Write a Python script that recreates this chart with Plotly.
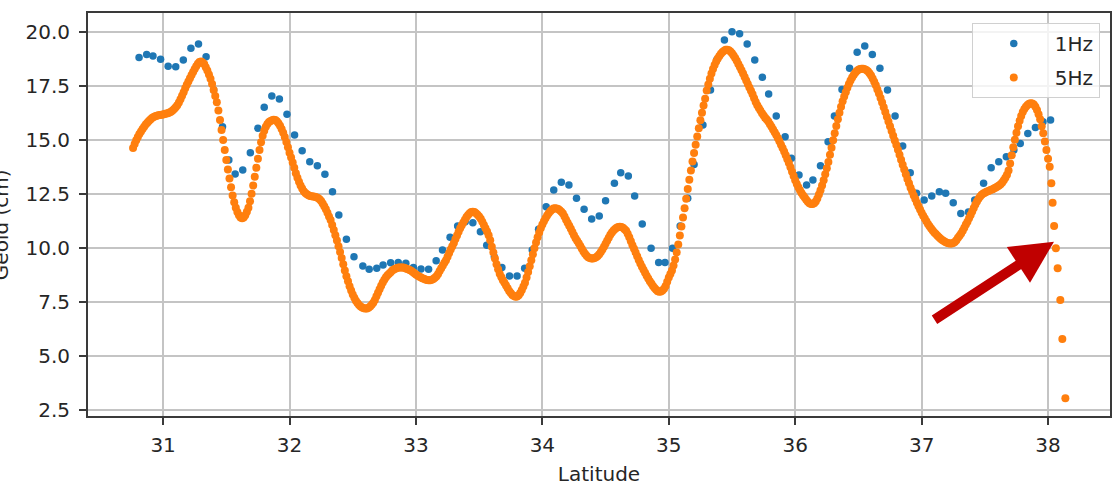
import plotly.graph_objects as go

# ---------------- data ----------------
LAT_1HZ = [
    30.81, 30.87, 30.92, 30.98, 31.04, 31.10, 31.16, 31.22, 31.28, 31.34,
    31.40, 31.47, 31.52, 31.57, 31.63, 31.69, 31.75, 31.80, 31.86, 31.92,
    31.98, 32.04, 32.10, 32.16, 32.22, 32.28, 32.34, 32.39, 32.45, 32.51,
    32.58, 32.63, 32.69, 32.74, 32.80, 32.86, 32.92, 32.98, 33.04, 33.10,
    33.16, 33.21, 33.27, 33.33, 33.39, 33.45, 33.51, 33.56, 33.62, 33.68,
    33.74, 33.80, 33.86, 33.92, 33.97, 34.03, 34.09, 34.15, 34.21, 34.27,
    34.33, 34.39, 34.45, 34.50, 34.57, 34.62, 34.68, 34.73, 34.79, 34.86,
    34.92, 34.97, 35.03, 35.09, 35.15, 35.20, 35.27, 35.33, 35.38, 35.44,
    35.50, 35.56, 35.62, 35.68, 35.74, 35.79, 35.85, 35.92, 35.97, 36.03,
    36.09, 36.14, 36.20, 36.26, 36.31, 36.37, 36.43, 36.49, 36.55, 36.61,
    36.67, 36.73, 36.79, 36.85, 36.91, 36.96, 37.02, 37.08, 37.14, 37.19,
    37.25, 37.31, 37.37, 37.42, 37.49, 37.55, 37.61, 37.67, 37.73, 37.78,
    37.84, 37.90, 37.96, 38.02,
]
VAL_1HZ = [
    18.81, 18.95, 18.87, 18.72, 18.40, 18.38, 18.69, 19.23, 19.43, 18.84,
    17.30, 15.60, 14.06, 13.41, 13.60, 14.40, 15.53, 16.50, 17.02, 16.88,
    16.18, 15.22, 14.49, 13.98, 13.80, 13.40, 12.59, 11.51, 10.39, 9.58,
    9.15, 9.00, 9.05, 9.20, 9.31, 9.32, 9.28, 9.09, 9.01, 9.00,
    9.40, 9.89, 10.48, 11.00, 11.20, 11.16, 10.74, 10.12, 9.58, 9.09,
    8.69, 8.69, 9.05, 9.89, 10.86, 11.90, 12.67, 13.03, 12.90, 12.29,
    11.78, 11.33, 11.47, 12.18, 12.98, 13.47, 13.32, 12.39, 11.10, 9.97,
    9.32, 9.32, 9.97, 11.00, 12.29, 13.85, 15.68, 17.30, 18.70, 19.62,
    20.00, 19.90, 19.43, 18.69, 17.89, 17.12, 16.10, 15.14, 14.14, 13.37,
    12.90, 13.14, 13.80, 14.91, 16.10, 17.33, 18.31, 19.05, 19.34, 18.95,
    18.31, 17.30, 16.10, 14.71, 13.47, 12.52, 12.21, 12.39, 12.59, 12.52,
    12.08, 11.59, 11.65, 12.21, 12.98, 13.70, 13.98, 14.21, 14.52, 14.83,
    15.29, 15.57, 15.83, 15.91,
]

# 5 Hz series: regular along-track sampling (start latitude and spacing),
# values
LAT_5HZ_START = 30.7625
LAT_5HZ_STEP = 0.0125
VAL_5HZ = [
    14.62, 14.80, 14.98,
    15.12, 15.26, 15.38, 15.50, 15.60, 15.70, 15.79, 15.87,   # 30.8
    15.94, 16.00, 16.05, 16.09, 16.11, 16.13, 16.14, 16.16,   # 30.9
    16.17, 16.19, 16.21, 16.23, 16.26, 16.30, 16.35, 16.42,   # 31.0
    16.50, 16.60, 16.72, 16.87, 17.03, 17.20, 17.38, 17.55,   # 31.1
    17.70, 17.85, 18.00, 18.13, 18.27, 18.40, 18.52, 18.60,   # 31.2
    18.62, 18.58, 18.50, 18.36, 18.20, 18.02, 17.82, 17.58,   # 31.3
    17.30, 17.02, 16.73, 16.35, 15.91, 15.45, 14.99, 14.52,   # 31.4
    14.06, 13.62, 13.20, 12.80, 12.42, 12.10, 11.85, 11.65,   # 31.5
    11.50, 11.40, 11.36, 11.40, 11.50, 11.66, 11.85, 12.15,   # 31.6
    12.50, 12.88, 13.28, 13.70, 14.12, 14.52, 14.88, 15.18,   # 31.7
    15.42, 15.60, 15.73, 15.82, 15.87, 15.90, 15.92, 15.91,   # 31.8
    15.86, 15.76, 15.65, 15.50, 15.32, 15.12, 14.90, 14.65,   # 31.9
    14.40, 14.18, 13.95, 13.70, 13.45, 13.24, 13.05, 12.88,   # 32.0
    12.74, 12.62, 12.53, 12.47, 12.43, 12.40, 12.38, 12.37,   # 32.1
    12.36, 12.34, 12.30, 12.24, 12.16, 12.05, 11.92, 11.78,   # 32.2
    11.62, 11.45, 11.28, 11.05, 10.82, 10.58, 10.33, 10.07,   # 32.3
    9.80, 9.52, 9.23, 8.95, 8.68, 8.45, 8.22, 8.02,           # 32.4
    7.84, 7.68, 7.55, 7.44, 7.35, 7.28, 7.23, 7.20,           # 32.5
    7.19, 7.19, 7.22, 7.28, 7.36, 7.45, 7.58, 7.75,           # 32.6
    7.92, 8.08, 8.24, 8.39, 8.52, 8.63, 8.72, 8.80,           # 32.7
    8.87, 8.94, 8.99, 9.03, 9.06, 9.08, 9.09, 9.09,           # 32.8
    9.08, 9.06, 9.03, 9.00, 8.97, 8.93, 8.88, 8.82,           # 32.9
    8.76, 8.71, 8.67, 8.63, 8.59, 8.56, 8.53, 8.51,           # 33.0
    8.50, 8.50, 8.52, 8.55, 8.61, 8.68, 8.78, 8.92,           # 33.1
    9.05, 9.18, 9.30, 9.42, 9.58, 9.75, 9.92, 10.07,          # 33.2
    10.22, 10.40, 10.57, 10.74, 10.90, 11.04, 11.17, 11.30,   # 33.3
    11.42, 11.52, 11.60, 11.65, 11.67, 11.65, 11.60, 11.53,   # 33.4
    11.45, 11.34, 11.20, 11.05, 10.90, 10.75, 10.58, 10.35,   # 33.5
    10.05, 9.78, 9.50, 9.23, 9.00, 8.80, 8.64, 8.50,          # 33.6
    8.38, 8.25, 8.12, 8.00, 7.90, 7.81, 7.76, 7.73,           # 33.7
    7.74, 7.80, 7.90, 8.04, 8.20, 8.38, 8.62, 8.88,           # 33.8
    9.14, 9.42, 9.70, 9.98, 10.24, 10.48, 10.70, 10.90,       # 33.9
    11.08, 11.23, 11.37, 11.49, 11.60, 11.69, 11.76, 11.81,   # 34.0
    11.83, 11.82, 11.79, 11.74, 11.67, 11.58, 11.45, 11.30,   # 34.1
    11.16, 11.02, 10.88, 10.73, 10.58, 10.44, 10.32, 10.21,   # 34.2
    10.08, 9.95, 9.83, 9.72, 9.63, 9.56, 9.52, 9.50,          # 34.3
    9.50, 9.52, 9.56, 9.62, 9.70, 9.80, 9.92, 10.05,          # 34.4
    10.18, 10.32, 10.46, 10.60, 10.71, 10.80, 10.87, 10.92,   # 34.5
    10.96, 10.97, 10.96, 10.92, 10.86, 10.78, 10.65, 10.48,   # 34.6
    10.30, 10.12, 9.95, 9.78, 9.60, 9.43, 9.27, 9.12,         # 34.7
    8.98, 8.84, 8.70, 8.57, 8.45, 8.34, 8.23, 8.13,           # 34.8
    8.05, 7.99, 7.96, 7.97, 8.02, 8.10, 8.23, 8.42,           # 34.9
    8.62, 8.78, 8.95, 9.18, 9.45, 9.78, 10.15, 10.57,         # 35.0
    10.98, 11.40, 11.83, 12.27, 12.72, 13.15, 13.58, 13.99,   # 35.1
    14.38, 14.77, 15.15, 15.53, 15.90, 16.25, 16.58, 16.90,   # 35.2
    17.28, 17.56, 17.82, 18.06, 18.27, 18.46, 18.62, 18.76,   # 35.3
    18.88, 18.98, 19.06, 19.12, 19.16, 19.17, 19.14, 19.08,   # 35.4
    19.00, 18.90, 18.78, 18.65, 18.51, 18.37, 18.22, 18.06,   # 35.5
    17.90, 17.74, 17.58, 17.42, 17.27, 17.10, 16.92, 16.75,   # 35.6
    16.60, 16.47, 16.35, 16.23, 16.12, 16.02, 15.94, 15.84,   # 35.7
    15.72, 15.60, 15.47, 15.35, 15.22, 15.08, 14.93, 14.77,   # 35.8
    14.62, 14.46, 14.28, 14.10, 13.92, 13.72, 13.52, 13.32,   # 35.9
    13.12, 12.95, 12.80, 12.66, 12.53, 12.42, 12.32, 12.22,   # 36.0
    12.13, 12.06, 12.02, 12.02, 12.06, 12.14, 12.28, 12.46,   # 36.1
    12.66, 12.88, 13.12, 13.40, 13.68, 13.97, 14.30, 14.63,   # 36.2
    14.97, 15.30, 15.63, 15.95, 16.25, 16.53, 16.78, 17.00,   # 36.3
    17.20, 17.40, 17.58, 17.74, 17.88, 18.00, 18.10, 18.18,   # 36.4
    18.24, 18.27, 18.28, 18.28, 18.26, 18.23, 18.17, 18.08,   # 36.5
    17.97, 17.83, 17.68, 17.52, 17.33, 17.14, 16.93, 16.72,   # 36.6
    16.50, 16.28, 16.06, 15.84, 15.62, 15.40, 15.18, 14.96,   # 36.7
    14.75, 14.53, 14.30, 14.07, 13.84, 13.62, 13.40, 13.18,   # 36.8
    12.98, 12.78, 12.60, 12.42, 12.25, 12.08, 11.92, 11.77,   # 36.9
    11.62, 11.48, 11.35, 11.22, 11.10, 10.99, 10.89, 10.80,   # 37.0
    10.71, 10.63, 10.55, 10.48, 10.42, 10.36, 10.31, 10.27,   # 37.1
    10.23, 10.21, 10.20, 10.20, 10.22, 10.27, 10.35, 10.46,   # 37.2
    10.55, 10.66, 10.79, 10.93, 11.07, 11.20, 11.36, 11.52,   # 37.3
    11.68, 11.84, 12.00, 12.14, 12.27, 12.37, 12.45, 12.51,   # 37.4
    12.55, 12.59, 12.62, 12.65, 12.68, 12.71, 12.75, 12.79,   # 37.5
    12.83, 12.88, 12.94, 13.02, 13.12, 13.24, 13.38, 13.58,   # 37.6
    13.90, 14.28, 14.65, 15.00, 15.32, 15.62, 15.88, 16.10,   # 37.7
    16.28, 16.42, 16.53, 16.61, 16.66, 16.69, 16.68, 16.63,   # 37.8
    16.53, 16.38, 16.18, 15.95,                               # 37.9
]
# last 5 Hz samples near the coast (irregular spacing as seen in the picture)
LAT_5HZ_TAIL = [37.950, 37.962, 37.975, 37.987, 38.000, 38.013, 38.026,
                38.036, 38.048, 38.062, 38.076, 38.097, 38.113, 38.137]
VAL_5HZ_TAIL = [15.62, 15.30, 14.92, 14.52, 14.12, 13.75, 12.98,
                12.08, 11.00, 9.97, 9.05, 7.58, 5.77, 3.03]

X_TICKS = [31, 32, 33, 34, 35, 36, 37, 38]
Y_TICKS = [2.5, 5.0, 7.5, 10.0, 12.5, 15.0, 17.5, 20.0]
Y_TICK_TEXT = ["2.5", "5.0", "7.5", "10.0", "12.5", "15.0", "17.5", "20.0"]
SERIES_NAMES = ["1Hz", "5Hz"]
X_LABEL = "Latitude"
Y_LABEL = "Geoid (cm)"

# arrow pointing at the 5 Hz drop near the coast
ARROW_TIP = (38.047, 10.28)

# ---------------- figure ----------------
lat5 = [LAT_5HZ_START + i * LAT_5HZ_STEP for i in range(len(VAL_5HZ))] + LAT_5HZ_TAIL
val5 = VAL_5HZ + VAL_5HZ_TAIL

FONT = "DejaVu Sans"
BLUE = "#1f77b4"
ORANGE = "#ff7f0e"
AX = "#3a3a3a"
GRID = "#c4c4c4"
TXT = "#262626"

fig = go.Figure()
fig.add_trace(go.Scatter(
    x=LAT_1HZ, y=VAL_1HZ, mode="markers", name=SERIES_NAMES[0],
    legendgroup="g1",
    marker=dict(color=BLUE, size=7.5, line=dict(width=0)),
))
fig.add_trace(go.Scatter(
    x=lat5, y=val5, mode="markers", name=SERIES_NAMES[1],
    legendgroup="g2",
    marker=dict(color=ORANGE, size=8, line=dict(width=0)),
))

fig.update_layout(
    width=1114, height=490,
    margin=dict(l=88, r=2, t=13, b=74),
    paper_bgcolor="white", plot_bgcolor="white",
    font=dict(family=FONT, size=20, color=TXT),
    showlegend=True,
    legend=dict(
        x=0.990, y=0.975, xanchor="right", yanchor="top",
        bgcolor="rgba(255,255,255,0.8)", bordercolor="#d0d0d0", borderwidth=1,
        font=dict(family=FONT, size=20, color=TXT),
        itemwidth=72, tracegroupgap=5,
    ),
    xaxis=dict(
        range=[30.406, 38.49], tickmode="array", tickvals=X_TICKS,
        ticktext=[str(t) for t in X_TICKS],
        showgrid=True, gridcolor=GRID, gridwidth=1.6, zeroline=False,
        showline=True, linecolor=AX, linewidth=1.8, mirror=True,
        ticks="outside", ticklen=7, tickwidth=1.6, tickcolor=AX,
        tickfont=dict(family=FONT, size=20, color=TXT),
        ticklabelstandoff=3,
        title=dict(text=X_LABEL, font=dict(family=FONT, size=20, color=TXT), standoff=11),
    ),
    yaxis=dict(
        range=[2.21, 20.866], tickmode="array", tickvals=Y_TICKS, ticktext=Y_TICK_TEXT,
        showgrid=True, gridcolor=GRID, gridwidth=1.6, zeroline=False,
        showline=True, linecolor=AX, linewidth=1.8, mirror=True,
        ticks="outside", ticklen=7, tickwidth=1.6, tickcolor=AX,
        tickfont=dict(family=FONT, size=20, color=TXT),
        ticklabelstandoff=5,
    ),
    annotations=[
        dict(text=Y_LABEL, textangle=-90, xref="paper", yref="paper",
             x=(1 - 88) / 1024, y=(416 - 225) / 403, xanchor="center", yanchor="middle",
             showarrow=False, font=dict(family=FONT, size=20, color=TXT)),
        dict(text="", x=ARROW_TIP[0], y=ARROW_TIP[1], xref="x", yref="y",
             ax=-121, ay=79, showarrow=True, arrowhead=2, arrowsize=0.85,
             arrowwidth=10, arrowcolor="#c00000", standoff=0),
    ],
)

fig.write_html("out.html")
